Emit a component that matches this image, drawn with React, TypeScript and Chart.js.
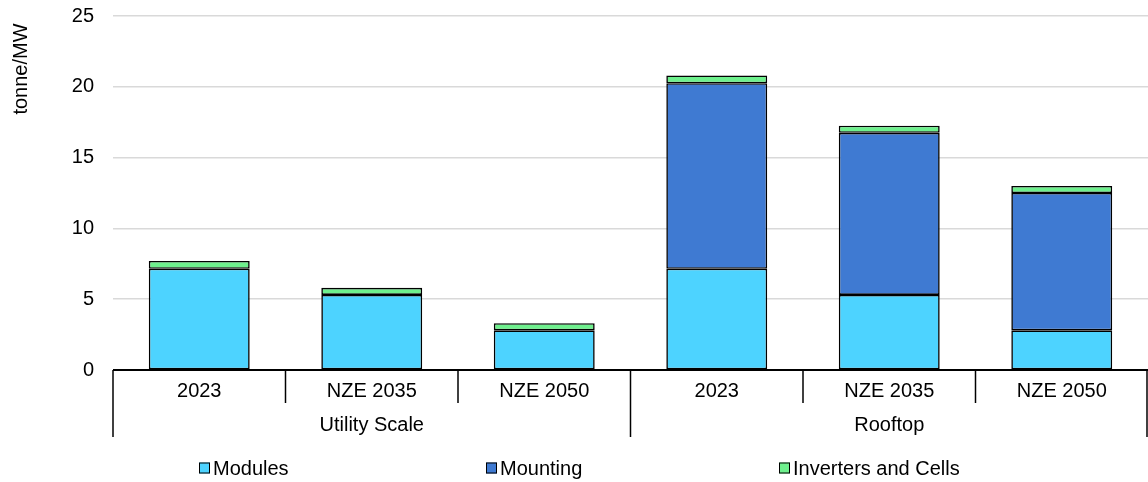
import React, { useEffect, useRef } from "react";
import { Chart, registerables } from "chart.js";

Chart.register(...registerables);

const groups = ["Utility Scale", "Rooftop"];
const scenarios = ["2023", "NZE 2035", "NZE 2050", "2023", "NZE 2035", "NZE 2050"];
const modules = [7.15, 5.3, 2.8, 7.15, 5.3, 2.8];
const mounting = [0, 0, 0, 13.1, 11.45, 9.7];
const inverters = [0.55, 0.5, 0.5, 0.55, 0.5, 0.5];
const yTicks = [0, 5, 10, 15, 20, 25];

const seriesNames = ["Modules", "Mounting", "Inverters and Cells"];
const seriesColors = ["#4dd3ff", "#3f7ad2", "#6ef08d"];

const FONT = "Arial, 'Liberation Sans', sans-serif";
const FS = 20;

export default function App() {
  const ref = useRef<HTMLCanvasElement>(null);

  useEffect(() => {
    const canvas = ref.current;
    if (!canvas) return;

    const customPlugin = {
      id: "customAxis",
      afterDraw(chart: any) {
        const ctx = chart.ctx;
        const area = chart.chartArea;
        const n = scenarios.length;
        const cw = (area.right - area.left) / n;
        const base = area.bottom;
        ctx.save();
        ctx.strokeStyle = "#000";
        ctx.lineWidth = 2;
        ctx.beginPath();
        ctx.moveTo(area.left, base);
        ctx.lineTo(area.right, base);
        ctx.stroke();
        ctx.lineWidth = 1.5;
        for (let i = 0; i <= n; i++) {
          let x = area.left + i * cw;
          if (i === n) x -= 1;
          const outer = i % 3 === 0;
          ctx.beginPath();
          ctx.moveTo(x, base);
          ctx.lineTo(x, outer ? base + 67 : base + 33);
          ctx.stroke();
        }
        ctx.fillStyle = "#000";
        ctx.font = `${FS}px ${FONT}`;
        ctx.textAlign = "center";
        ctx.textBaseline = "middle";
        for (let i = 0; i < n; i++) {
          ctx.fillText(scenarios[i], area.left + (i + 0.5) * cw, base + 21);
        }
        for (let g = 0; g < groups.length; g++) {
          ctx.fillText(groups[g], area.left + (g * 3 + 1.5) * cw, base + 55);
        }
        ctx.save();
        ctx.translate(21, 69);
        ctx.rotate(-Math.PI / 2);
        ctx.fillText("tonne/MW", 0, 0);
        ctx.restore();
        const legendX = [199, 486, 779];
        const ly = 468;
        ctx.textAlign = "left";
        for (let s = 0; s < seriesNames.length; s++) {
          const bx = legendX[s];
          ctx.fillStyle = seriesColors[s];
          ctx.fillRect(bx, ly - 5.5, 11, 11);
          ctx.strokeStyle = "#000";
          ctx.lineWidth = 1;
          ctx.strokeRect(bx + 0.5, ly - 5, 10, 10);
          ctx.fillStyle = "#000";
          ctx.fillText(seriesNames[s], bx + 14, ly + 1);
        }
        ctx.restore();
      },
    };

    const values = [modules, mounting, inverters];
    const chart = new Chart(canvas, {
      type: "bar",
      data: {
        labels: scenarios.map((s, i) => `${i < 3 ? groups[0] : groups[1]} ${s}`),
        datasets: seriesNames.map((name, s) => ({
          label: name,
          data: values[s],
          backgroundColor: seriesColors[s],
          borderColor: "#000",
          borderWidth: 1.6,
          borderSkipped: false,
          barPercentage: 0.585,
          categoryPercentage: 1,
        })),
      },
      options: {
        responsive: false,
        animation: false,
        layout: { autoPadding: false, padding: { top: 16, bottom: 112, left: 0, right: 0 } },
        plugins: { legend: { display: false }, tooltip: { enabled: false }, title: { display: false } },
        scales: {
          x: { stacked: true, display: false },
          y: {
            stacked: true,
            min: 0,
            max: 25,
            afterFit(scale: any) {
              scale.width = 113;
              scale.paddingTop = 0;
              scale.paddingBottom = 0;
            },
            afterBuildTicks(scale: any) {
              scale.ticks = yTicks.map((v) => ({ value: v }));
            },
            ticks: {
              padding: 19,
              color: "#000",
              font: { size: FS, family: FONT, lineHeight: 0.5 },
            },
            border: { display: false },
            grid: { color: "#d9d9d9", lineWidth: 1.5, drawTicks: false },
          },
        },
      },
      plugins: [customPlugin],
    });
    return () => chart.destroy();
  }, []);

  return (
    <div style={{ position: "fixed", left: 0, top: 0 }}>
      <canvas ref={ref} width={1148} height={482} style={{ display: "block" }} />
    </div>
  );
}
